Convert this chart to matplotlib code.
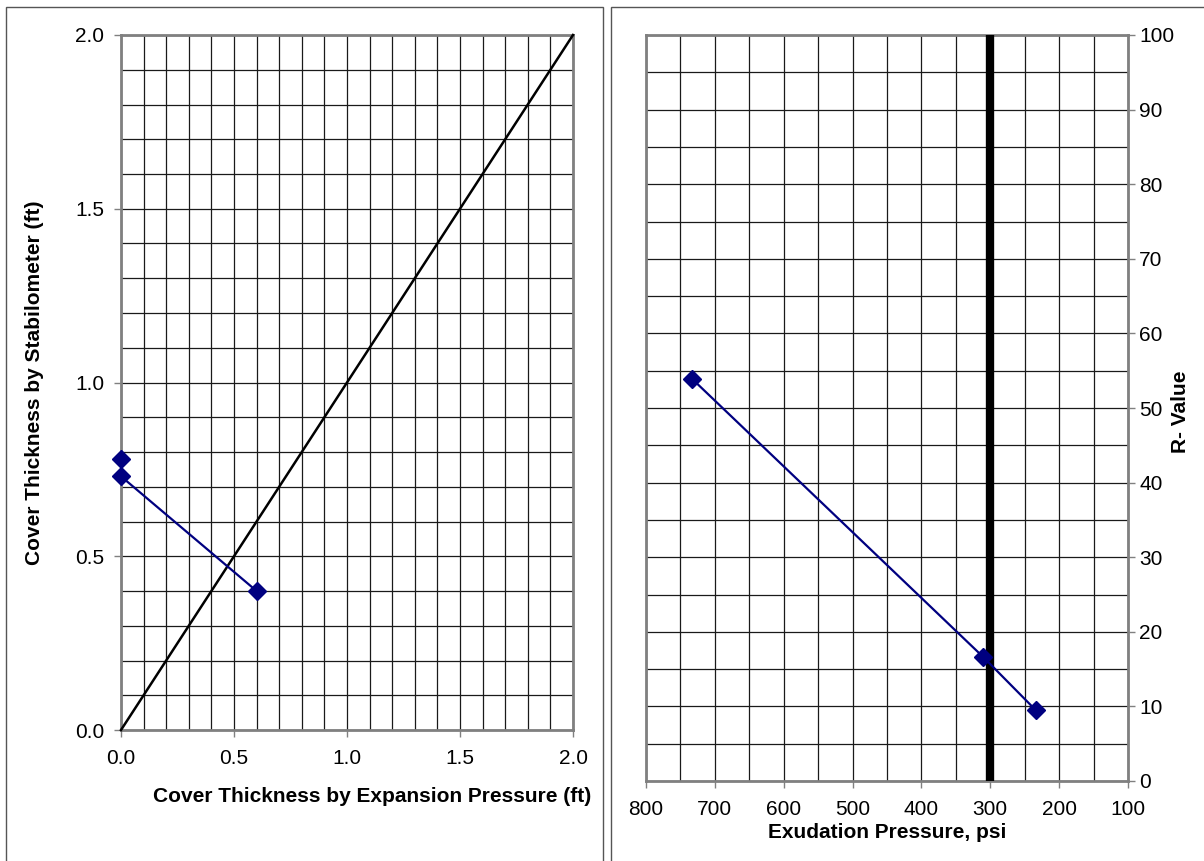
import matplotlib
matplotlib.use("Agg")
import matplotlib.pyplot as plt
import numpy as np
from matplotlib.patches import Rectangle

plt.rcParams['font.family'] = ['Liberation Sans', 'DejaVu Sans']

# Left chart: cover thickness comparison
equality_x = [0.0, 2.0]
equality_y = [0.0, 2.0]
single_x = [0.0]
single_y = [0.78]
cover_x = [0.0, 0.6]
cover_y = [0.73, 0.40]

# Right chart: R-value vs exudation pressure
exudation_psi = [733, 310, 234]
r_value = [53.9, 16.6, 9.5]
design_psi = 300

W, H = 1204, 861
fig = plt.figure(figsize=(W / 100, H / 100), dpi=100)

NAVY = '#000080'
FRAME = '#808080'
FS = 15


def box(x0, y0, x1, y1):
    return [x0 / W, 1 - y1 / H, (x1 - x0) / W, (y1 - y0) / H]


# panel borders
for x0, x1 in [(6, 603), (611, 1210)]:
    fig.patches.append(Rectangle((x0 / W, -0.05), (x1 - x0) / W, 1 - 7 / H + 0.05,
                                 transform=fig.transFigure, fill=False,
                                 edgecolor='#555555', linewidth=1.0))

# ---- left chart ----
ax1 = fig.add_axes(box(121, 35, 573, 730))
ax1.set_xlim(0, 2)
ax1.set_ylim(0, 2)
ax1.set_xticks(np.arange(0, 2.01, 0.5))
ax1.set_yticks(np.arange(0, 2.01, 0.5))
ax1.set_xticks(np.arange(0, 2.01, 0.1), minor=True)
ax1.set_yticks(np.arange(0, 2.01, 0.1), minor=True)
ax1.set_xticklabels([f'{v:.1f}' for v in np.arange(0, 2.01, 0.5)])
ax1.set_yticklabels([f'{v:.1f}' for v in np.arange(0, 2.01, 0.5)])
ax1.grid(which='both', color='#1a1a1a', linewidth=0.9)
ax1.tick_params(which='minor', length=0)
ax1.tick_params(which='major', length=5, width=1, color=FRAME, labelsize=FS,
                direction='out')
ax1.tick_params(axis='x', pad=9)
ax1.tick_params(axis='y', pad=7)
for s in ax1.spines.values():
    s.set_color(FRAME)
    s.set_linewidth(2)
ax1.set_axisbelow(True)
ax1.plot(equality_x, equality_y, color='black', linewidth=1.8, zorder=3, clip_on=False)
ax1.plot(cover_x, cover_y, color=NAVY, linewidth=1.6, marker='D', markersize=9,
         zorder=4, clip_on=False)
ax1.plot(single_x, single_y, color=NAVY, linestyle='none', marker='D', markersize=9,
         zorder=4, clip_on=False)
fig.text(372 / W, 1 - 797 / H, 'Cover Thickness by Expansion Pressure (ft)',
         ha='center', va='center', fontsize=FS, fontweight='bold')
fig.text(35 / W, 1 - 383 / H, 'Cover Thickness by Stabilometer (ft)',
         ha='center', va='center', rotation=90, fontsize=FS, fontweight='bold')

# ---- right chart ----
ax2 = fig.add_axes(box(646, 35, 1128, 781))
ax2.set_xlim(800, 100)
ax2.set_ylim(0, 100)
ax2.set_xticks(np.arange(100, 801, 100))
ax2.set_xticks(np.arange(100, 801, 50), minor=True)
ax2.set_yticks(np.arange(0, 101, 10))
ax2.set_yticks(np.arange(0, 101, 5), minor=True)
ax2.yaxis.tick_right()
ax2.grid(which='both', color='#1a1a1a', linewidth=0.9)
ax2.tick_params(which='minor', length=0)
ax2.tick_params(which='major', length=5, width=1, color=FRAME, labelsize=FS,
                direction='out')
ax2.tick_params(axis='x', pad=9)
ax2.tick_params(axis='y', pad=3)
for s in ax2.spines.values():
    s.set_color(FRAME)
    s.set_linewidth(2)
ax2.set_axisbelow(True)
ax2.axvline(design_psi, color='black', linewidth=6, zorder=3)
ax2.plot(exudation_psi, r_value, color=NAVY, linewidth=1.6, marker='D', markersize=9,
         zorder=4, clip_on=False)
fig.text(887 / W, 1 - 832 / H, 'Exudation Pressure, psi',
         ha='center', va='center', fontsize=FS, fontweight='bold')
fig.text(1181 / W, 1 - 412 / H, 'R- Value',
         ha='center', va='center', rotation=90, fontsize=FS, fontweight='bold')

fig.savefig('out.png', dpi=100)
